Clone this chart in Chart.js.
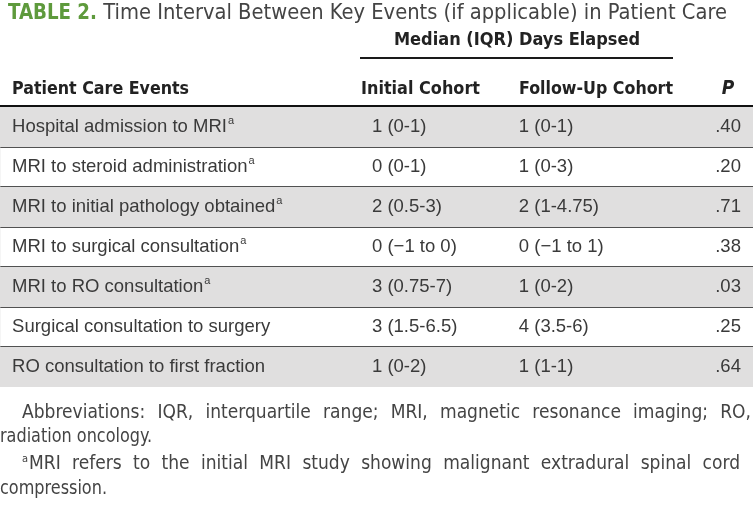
<!DOCTYPE html>
<html>
<head>
<meta charset="utf-8">
<script src="https://cdn.jsdelivr.net/npm/chart.js@4.4.1/dist/chart.umd.min.js"></script>
<style>
  html, body { margin: 0; padding: 0; background: #fff; }
  #wrap { width: 753px; height: 522px; }
</style>
</head>
<body>
<div id="wrap"><canvas id="tbl" width="753" height="522"></canvas></div>
<script>
// table content
const events = [
  "Hospital admission to MRI",
  "MRI to steroid administration",
  "MRI to initial pathology obtained",
  "MRI to surgical consultation",
  "MRI to RO consultation",
  "Surgical consultation to surgery",
  "RO consultation to first fraction",
];
const footMark = [true, true, true, true, true, false, false];
const initialCohort = ["1 (0-1)", "0 (0-1)", "2 (0.5-3)", "0 (\u22121 to 0)", "3 (0.75-7)", "3 (1.5-6.5)", "1 (0-2)"];
const followUpCohort = ["1 (0-1)", "1 (0-3)", "2 (1-4.75)", "0 (\u22121 to 1)", "1 (0-2)", "4 (3.5-6)", "1 (1-1)"];
const pValues = [".40", ".20", ".71", ".38", ".03", ".25", ".64"];
const rowShade = [1, 0, 1, 0, 1, 0, 1];

const headers = ["Patient Care Events", "Initial Cohort", "Follow-Up Cohort", "P"];
const spanHeader = "Median (IQR) Days Elapsed";
const titleTag = "TABLE 2.";
const titleText = " Time Interval Between Key Events (if applicable) in Patient Care";
const notes = [
  "Abbreviations: IQR, interquartile range; MRI, magnetic resonance imaging; RO,",
  "radiation oncology.",
  "MRI refers to the initial MRI study showing malignant extradural spinal cord",
  "compression.",
];

const NARROW = "'Liberation Sans Narrow', 'DejaVu Sans Condensed', 'Liberation Sans', sans-serif";
const BODY = "'Liberation Sans', Arial, sans-serif";
const INK = "#3a3a3a";

// justified line, like the journal's footnotes
function justify(ctx, text, x0, yy, x1) {
  const words = text.split(" ");
  const total = words.reduce((s, w) => s + ctx.measureText(w).width, 0);
  const gap = (x1 - x0 - total) / (words.length - 1);
  let cx = x0;
  words.forEach((w) => {
    ctx.fillText(w, cx, yy);
    cx += ctx.measureText(w).width + gap;
  });
}

// draws the header, cells and notes on top of the bands
const tableText = {
  id: "tableText",
  afterDraw(chart) {
    const ctx = chart.ctx;
    const y = chart.scales.y;
    const x = chart.scales.x;
    const area = chart.chartArea;
    const colX = [x.getPixelForValue(0.016), x.getPixelForValue(0.494), x.getPixelForValue(0.689), x.getPixelForValue(0.984)];

    ctx.save();
    ctx.textBaseline = "middle";

    // title
    ctx.textAlign = "left";
    ctx.font = "bold 22px " + NARROW;
    ctx.fillStyle = "#5e9a3c";
    ctx.fillText(titleTag, 8, 13, 89);
    ctx.font = "22px " + NARROW;
    ctx.fillStyle = "#444";
    ctx.fillText(titleText, 97, 13, 727 - 97);

    // spanning header
    ctx.font = "bold 18px " + NARROW;
    ctx.fillStyle = "#222";
    ctx.textAlign = "center";
    ctx.fillText(spanHeader, 517, 40);
    ctx.fillStyle = "#1a1a1a";
    ctx.fillRect(360, 57, 313, 2);

    // column headers
    const hy = area.top - 18;
    ctx.fillStyle = "#222";
    ctx.textAlign = "left";
    ctx.fillText(headers[0], colX[0], hy, 177);
    ctx.fillText(headers[1], 361, hy, 119);
    ctx.fillText(headers[2], 519, hy, 154);
    ctx.font = "italic bold 19px " + NARROW;
    ctx.textAlign = "center";
    ctx.fillText(headers[3], 728, hy);

    // body cells
    ctx.fillStyle = INK;
    events.forEach((ev, i) => {
      const cy = y.getPixelForValue(i);
      ctx.font = "18.5px " + BODY;
      ctx.textAlign = "left";
      ctx.fillText(ev, colX[0], cy);
      if (footMark[i]) {
        const w = ctx.measureText(ev).width;
        ctx.font = "11px " + BODY;
        ctx.fillText("a", colX[0] + w + 1, cy - 6);
        ctx.font = "18.5px " + BODY;
      }
      ctx.fillText(initialCohort[i], colX[1], cy);
      ctx.fillText(followUpCohort[i], colX[2], cy);
      ctx.textAlign = "right";
      ctx.fillText(pValues[i], colX[3], cy);
    });

    // notes
    const ny = area.bottom;
    ctx.textAlign = "left";
    ctx.font = "19px " + NARROW;
    ctx.fillStyle = "#444";
    justify(ctx, notes[0], 22, ny + 26, 751);
    ctx.fillText(notes[1], 0, ny + 50, 152);
    ctx.font = "11px " + NARROW;
    ctx.fillText("a", 22, ny + 72);
    ctx.font = "19px " + NARROW;
    justify(ctx, notes[2], 29, ny + 77, 740);
    ctx.fillText(notes[3], 0, ny + 102, 107);
    ctx.restore();
  },
};

new Chart(document.getElementById("tbl"), {
  type: "bar",
  data: {
    labels: events,
    datasets: [{
      data: rowShade,
      backgroundColor: "#e0dfdf",
      borderWidth: 0,
      barPercentage: 1,
      categoryPercentage: 1,
    }],
  },
  options: {
    indexAxis: "y",
    responsive: false,
    animation: false,
    devicePixelRatio: 1,
    layout: { padding: { top: 107, bottom: 135, left: 0, right: 0 } },
    plugins: { legend: { display: false }, tooltip: { enabled: false } },
    scales: {
      x: { min: 0, max: 1, display: false },
      y: {
        z: 1,
        offset: true,
        ticks: { display: false },
        border: { display: false },
        grid: {
          offset: true,
          drawTicks: false,
          color: (c) => (c.index === 0 ? "#111" : c.index === undefined ? "transparent" : "#222"),
          lineWidth: (c) => (c.index === 0 ? 4 : c.index === undefined ? 0 : 2),
        },
        afterFit: (s) => { s.width = 0; },
      },
    },
  },
  plugins: [tableText],
});
</script>
</body>
</html>
